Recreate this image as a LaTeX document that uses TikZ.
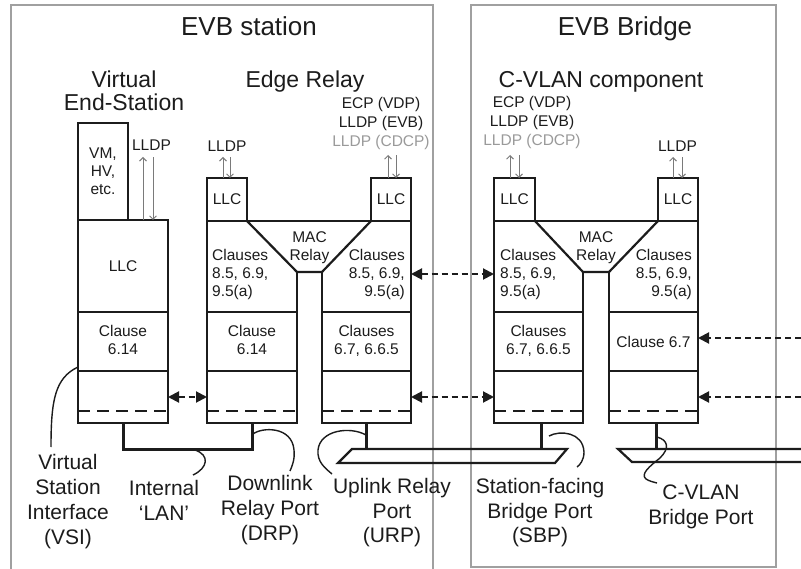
\documentclass[tikz,border=0pt]{standalone}
\usepackage{fontspec}
\setmainfont{Liberation Sans}
\usetikzlibrary{arrows.meta}
\newcommand\mystack[2]{\begin{tabular}[t]{@{}#1@{}}#2\end{tabular}}
\definecolor{inkc}{HTML}{1C1C1C}
\definecolor{framec}{HTML}{A0A0A0}
\definecolor{protogray}{HTML}{9A9A9A}
\definecolor{arrowgray}{HTML}{7A7A7A}
\begin{document}
\begin{tikzpicture}[x=1pt,y=-1pt,
  ink/.style={draw=inkc, line width=2.2pt},
  cell/.style={ink, inner sep=0pt, outer sep=0pt, anchor=north west},
  zone/.style={inner sep=0pt, outer sep=0pt, anchor=north west},
  frame/.style={draw=framec, line width=1.5pt},
  ttl/.style={font=\fontsize{26}{30}\selectfont, anchor=base, inner sep=0pt, text=inkc},
  sub/.style={font=\fontsize{23}{20}\selectfont, anchor=base, inner sep=0pt, text=inkc},
  txt/.style={font=\fontsize{15.5}{18}\selectfont, inner sep=0pt, text=inkc},
  lbl/.style={font=\fontsize{21}{25}\selectfont, anchor=base, inner sep=0pt, text=inkc},
  proto/.style={font=\fontsize{15.5}{19}\selectfont, anchor=base, inner sep=0pt, text=inkc},
  lldpup/.style={draw=arrowgray, line width=0.9pt, -{Straight Barb[length=3.5pt,width=7pt]}},
  lldpdown/.style={draw=arrowgray, line width=0.9pt, {Straight Barb[length=3.5pt,width=7pt]}-},
  dsh/.style={draw=inkc, line width=2pt, dash pattern=on 6pt off 4pt,
    {Triangle[length=11pt,width=11pt]}-{Triangle[length=11pt,width=11pt]}},
  dshin/.style={draw=inkc, line width=2pt, dash pattern=on 6pt off 4pt,
    -{Triangle[length=11pt,width=11pt]}},
  portdash/.style={draw=inkc, line width=2.2pt, dash pattern=on 12pt off 7pt},
  bus/.style={draw=inkc, line width=2.2pt, line join=miter},
  stem/.style={draw=inkc, line width=3pt},
  leader/.style={draw=inkc, line width=1.4pt},
]
\useasboundingbox (0,0) rectangle (801,569);
\clip (0,0) rectangle (801,569);
\fill[white] (0,0) rectangle (801,569);

% frames
\draw[frame] (11,5) rectangle (433,600);
\draw[frame] (471,5) rectangle (776,567);

% titles
\node[ttl] (tstation) at (249,36) {EVB station};
\node[ttl] (tbridge) at (625,36) {EVB Bridge};
\node[sub] (tves) at (124,88) {\mystack{c}{Virtual\\End-Station}};
\node[sub] (trelay) at (305,88) {Edge Relay};
\node[sub] (tcvlan) at (601,88) {C-VLAN component};

% ---------- Virtual End-Station ----------
\node[cell, minimum width=50pt, minimum height=97pt] (vm) at (78,123) {};
\node[cell, minimum width=90pt, minimum height=92pt] (vesllc) at (78,220) {};
\node[cell, minimum width=90pt, minimum height=59pt] (vescl) at (78,312) {};
\node[cell, minimum width=90pt, minimum height=52pt] (vesport) at (78,371) {};
\draw[portdash] ([yshift=12pt]vesport.south west) -- ([yshift=12pt]vesport.south east);

\node[txt, anchor=base] (vmtxt) at (103,159) {\mystack{c}{VM,\\HV,\\etc.}};
\node[txt] (vesllctxt) at (vesllc) {LLC};
\node[txt] (vescltxt) at (vescl) {\mystack{c}{Clause\\6.14}};
\node[proto] (veslldp) at (151.5,151) {LLDP};
\draw[lldpup] ([xshift=20pt]vesllc.north) -- ++(0,-63);
\draw[lldpdown] ([xshift=30pt]vesllc.north) -- ++(0,-63);

% ---------- Edge Relay ----------
\node[cell, minimum width=40pt, minimum height=43pt] (drpllc) at (207,178) {};
\node[cell, minimum width=40pt, minimum height=43pt] (urpllc) at (371,178) {};
\node[zone, minimum width=90pt, minimum height=91pt] (drpup) at (207,221) {};
\node[zone, minimum width=89pt, minimum height=91pt] (urpup) at (322,221) {};
\node[cell, minimum width=90pt, minimum height=59pt] (drpcl) at (207,312) {};
\node[cell, minimum width=90pt, minimum height=52pt] (drpport) at (207,371) {};
\node[cell, minimum width=89pt, minimum height=59pt] (urpcl) at (322,312) {};
\node[cell, minimum width=89pt, minimum height=52pt] (urpport) at (322,371) {};
\coordinate (erL) at (297,272);
\coordinate (erR) at (322,272);
\draw[ink, line join=miter] (drpup.south west) -- (drpup.north west) -- (urpup.north east) -- (urpup.south east);
\draw[ink, line join=miter] (drpllc.south east) -- (erL) -- (erR) -- (urpllc.south west);
\draw[ink] (erL) -- (drpup.south east);
\draw[ink] (erR) -- (urpup.south west);
\draw[portdash] ([yshift=12pt]drpport.south west) -- ([yshift=12pt]drpport.south east);
\draw[portdash] ([yshift=12pt]urpport.south west) -- ([yshift=12pt]urpport.south east);

\node[txt] (drpllctxt) at (drpllc) {LLC};
\node[txt] (urpllctxt) at (urpllc) {LLC};
\node[txt, anchor=base] (ermac) at (309.5,243) {\mystack{c}{MAC\\Relay}};
\node[txt, anchor=base west] (drpuptxt) at (212,261) {\mystack{l}{Clauses\\8.5, 6.9,\\9.5(a)}};
\node[txt, anchor=base east] (urpuptxt) at (405,261) {\mystack{r}{Clauses\\8.5, 6.9,\\9.5(a)}};
\node[txt] (drpcltxt) at (drpcl) {\mystack{c}{Clause\\6.14}};
\node[txt] (urpcltxt) at (urpcl) {\mystack{c}{Clauses\\6.7, 6.6.5}};
\node[proto] (drplldp) at (227,152) {LLDP};
\node[proto] (urpproto) at (381,109) {\mystack{c}{ECP (VDP)\\LLDP (EVB)\\\textcolor{protogray}{LLDP (CDCP)}}};
\draw[lldpup] ([xshift=-4pt]drpllc.north) -- ++(0,-21);
\draw[lldpdown] ([xshift=3pt]drpllc.north) -- ++(0,-21);
\draw[lldpup] ([xshift=-3pt]urpllc.north) -- ++(0,-23);
\draw[lldpdown] ([xshift=5pt]urpllc.north) -- ++(0,-23);

% ---------- C-VLAN component ----------
\node[cell, minimum width=41pt, minimum height=43pt] (sbpllc) at (494,178) {};
\node[cell, minimum width=40pt, minimum height=43pt] (cbpllc) at (658,178) {};
\node[zone, minimum width=89pt, minimum height=91pt] (sbpup) at (494,221) {};
\node[zone, minimum width=89pt, minimum height=91pt] (cbpup) at (609,221) {};
\node[cell, minimum width=89pt, minimum height=59pt] (sbpcl) at (494,312) {};
\node[cell, minimum width=89pt, minimum height=52pt] (sbpport) at (494,371) {};
\node[cell, minimum width=89pt, minimum height=59pt] (cbpcl) at (609,312) {};
\node[cell, minimum width=89pt, minimum height=52pt] (cbpport) at (609,371) {};
\coordinate (brL) at (583,272);
\coordinate (brR) at (609,272);
\draw[ink, line join=miter] (sbpup.south west) -- (sbpup.north west) -- (cbpup.north east) -- (cbpup.south east);
\draw[ink, line join=miter] (sbpllc.south east) -- (brL) -- (brR) -- (cbpllc.south west);
\draw[ink] (brL) -- (sbpup.south east);
\draw[ink] (brR) -- (cbpup.south west);
\draw[portdash] ([yshift=12pt]sbpport.south west) -- ([yshift=12pt]sbpport.south east);
\draw[portdash] ([yshift=12pt]cbpport.south west) -- ([yshift=12pt]cbpport.south east);

\node[txt] (sbpllctxt) at (sbpllc) {LLC};
\node[txt] (cbpllctxt) at (cbpllc) {LLC};
\node[txt, anchor=base] (brmac) at (596,243) {\mystack{c}{MAC\\Relay}};
\node[txt, anchor=base west] (sbpuptxt) at (500,261) {\mystack{l}{Clauses\\8.5, 6.9,\\9.5(a)}};
\node[txt, anchor=base east] (cbpuptxt) at (692,261) {\mystack{r}{Clauses\\8.5, 6.9,\\9.5(a)}};
\node[txt] (sbpcltxt) at (sbpcl) {\mystack{c}{Clauses\\6.7, 6.6.5}};
\node[txt] (cbpcltxt) at (cbpcl) {Clause 6.7};
\node[proto] (sbpproto) at (532,108) {\mystack{c}{ECP (VDP)\\LLDP (EVB)\\\textcolor{protogray}{LLDP (CDCP)}}};
\node[proto] (cbplldp) at (677.5,152) {LLDP};
\draw[lldpup] ([xshift=-4.5pt]sbpllc.north) -- ++(0,-23);
\draw[lldpdown] ([xshift=4.5pt]sbpllc.north) -- ++(0,-23);
\draw[lldpup] ([xshift=-5pt]cbpllc.north) -- ++(0,-21);
\draw[lldpdown] ([xshift=4pt]cbpllc.north) -- ++(0,-21);

% ---------- dashed links ----------
\draw[dsh] (vesport.east) -- (drpport.west);
\draw[dsh] ([yshift=-7.5pt]urpup.east) -- ([yshift=-7.5pt]sbpup.west);
\draw[dsh] (urpport.east) -- (sbpport.west);
\coordinate (rin1) at (801,338);
\coordinate (rin2) at (801,397);
\draw[dshin] (rin1) -- (cbpcl.east |- rin1);
\draw[dshin] (rin2) -- (cbpport.east);

% ---------- LAN and buses ----------
\draw[stem, line join=miter] (vesport.south) -- ++(0,26) -| (drpport.south);
\draw[bus] (352,449) -- (567,449) -- (555,463) -- (338,463) -- cycle;
\draw[bus] (801,449) -- (618,449) -- (632,462) -- (801,462);
\draw[stem] (urpport.south) -- (urpport.south |- 0,449);
\draw[stem] ([xshift=3pt]sbpport.south) -- ++(0,26);
\draw[stem] ([xshift=2.5pt]cbpport.south) -- ++(0,26);

% ---------- leaders ----------
\draw[leader] (78,367) .. controls (55,378) and (51,400) .. (51,447);
\draw[leader] (195,450) .. controls (210,455) and (208,468) .. (193,475);
\draw[leader] (253,434) .. controls (262,427) and (292,426) .. (294,450) .. controls (295,460) and (292,466) .. (290,471);
\draw[leader] (366,435) .. controls (350,426) and (320,430) .. (318,450) .. controls (317,462) and (325,468) .. (332,474);
\draw[leader] (549,436) .. controls (560,430) and (583,432) .. (584,452) .. controls (584,460) and (580,465) .. (577,467);
\draw[leader] (657,437) .. controls (668,440) and (670,448) .. (660,458) .. controls (650,466) and (640,474) .. (646,479) .. controls (649,481) and (653,482) .. (657,483);

% ---------- bottom labels ----------
\node[lbl] (lvsi) at (68,469) {\mystack{c}{Virtual\\Station\\Interface\\(VSI)}};
\node[lbl] (llan) at (164,495) {\mystack{c}{Internal\\‘LAN’}};
\node[lbl] (ldrp) at (270,490) {\mystack{c}{Downlink\\Relay Port\\(DRP)}};
\node[lbl] (lurp) at (392,493) {\mystack{c}{Uplink Relay\\Port\\(URP)}};
\node[lbl] (lsbp) at (540,493) {\mystack{c}{Station-facing\\Bridge Port\\(SBP)}};
\node[lbl] (lcbp) at (701,499) {\mystack{c}{C-VLAN\\Bridge Port}};
\end{tikzpicture}
\end{document}
